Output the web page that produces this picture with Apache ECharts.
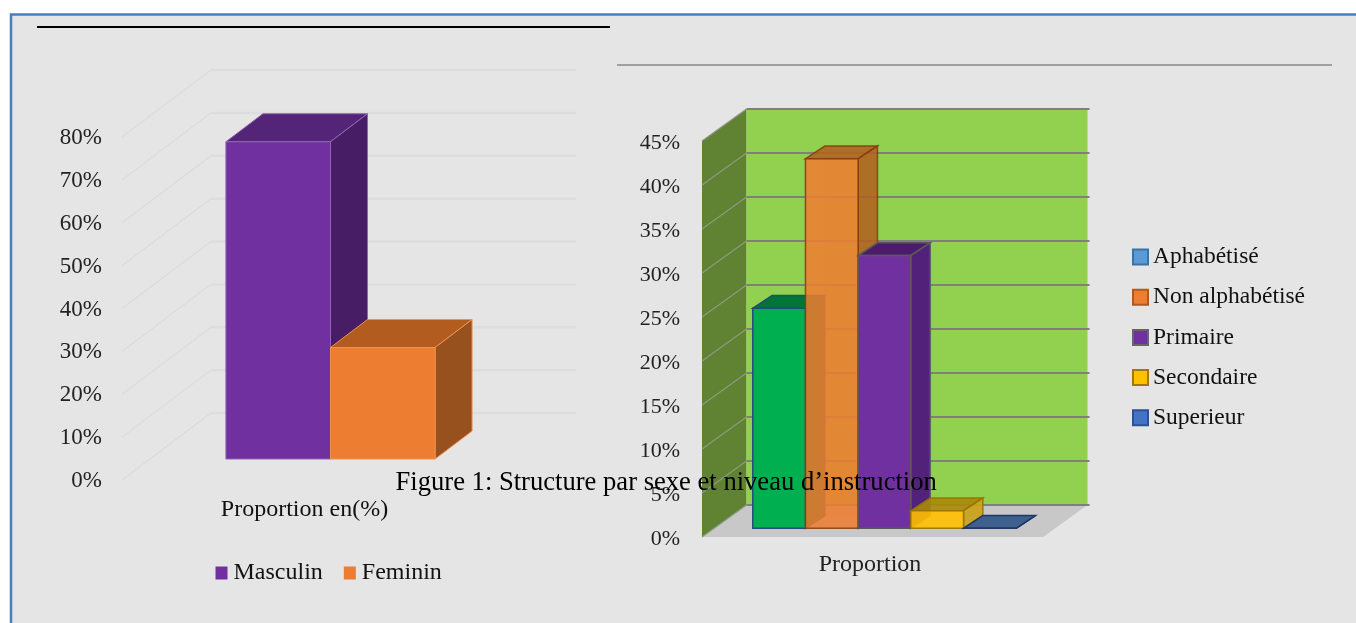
<!DOCTYPE html>
<html><head><meta charset="utf-8">
<style>html,body{margin:0;padding:0;background:#fff}#c{width:1356px;height:623px}</style>
<script src="https://cdn.jsdelivr.net/npm/echarts@6/dist/echarts.min.js"></script>
</head><body><div id="c"></div>
<script>
const titleText = "Figure 1: Structure par sexe et niveau d’instruction";
const sexCategories = ["Proportion en(%)"];
const sexNames = ["Masculin", "Feminin"];
const sexValues = [74, 26];
const sexTicks = [0, 10, 20, 30, 40, 50, 60, 70, 80];
const eduCategories = ["Proportion"];
const eduNames = ["Aphabétisé", "Non alphabétisé", "Primaire", "Secondaire", "Superieur"];
const eduValues = [25, 42, 31, 2, 0];
const eduTicks = [0, 5, 10, 15, 20, 25, 30, 35, 40, 45];

const serif = '"Liberation Serif","Times New Roman",serif';

const sexStyles = [
  {front:'#7030a0', top:'#542478', side:'#471e65', line:'#8f66b3', opacity:1},
  {front:'#ed7d31', top:'#b25c20', side:'#97511e', line:'#f0924f', opacity:1}
];
const eduStyles = [
  {front:'#00b050', top:'#007535', side:'#007535', line:'#1f4e79', opacity:1},
  {front:'#ed7d31', top:'#b0601f', side:'#b0601f', line:'#843c0c', opacity:0.86, back:true},
  {front:'#7030a0', top:'#4c1b6e', side:'#52217a', line:'#595959', opacity:1},
  {front:'#ffc000', top:'#a88a08', side:'#c9a116', line:'#977200', opacity:0.9, back:true},
  {front:'#4472c4', top:'#3f5f8f', side:'#203864', line:'#203864', opacity:1}
];
const eduLegendStyles = [
  {color:'#5b9bd5', borderColor:'#41719c'},
  {color:'#ed7d31', borderColor:'#ae5a21'},
  {color:'#7030a0', borderColor:'#666666'},
  {color:'#ffc000', borderColor:'#9c7a10'},
  {color:'#4472c4', borderColor:'#2f528f'}
];

function poly(points, fill, stroke, lw, opacity){
  return {type:'polygon', shape:{points}, style:{fill, stroke, lineWidth:lw, opacity}};
}

function barSeries(name, value, cat, i, n, style, conf, gridIndex){
  return {
    type:'custom', name, xAxisIndex:gridIndex, yAxisIndex:gridIndex, z:3, silent:true,
    itemStyle:{color:style.front},
    data:[[cat, value]],
    renderItem(params, api){
      const c = api.value(0), v = api.value(1);
      const base = api.coord([c, 0]), topP = api.coord([c, v]);
      const w = api.size([1, 0])[0] * conf.ratio;
      const x0 = base[0] - w * n / 2 + i * w + conf.ox, x1 = x0 + w;
      const yb = base[1] - conf.oy, yt = topP[1] - conf.oy;
      const dx = conf.dx, dy = conf.dy, lw = conf.lw, o = style.opacity;
      const ch = [];
      if (style.back) {
        ch.push(poly([[x0+dx,yb-dy],[x1+dx,yb-dy],[x1+dx,yt-dy],[x0+dx,yt-dy]], style.front, style.line, 0.6, 0.12));
      }
      ch.push(poly([[x0,yt],[x1,yt],[x1+dx,yt-dy],[x0+dx,yt-dy]], style.top, style.line, lw, o));
      ch.push(poly([[x1,yb],[x1+dx,yb-dy],[x1+dx,yt-dy],[x1,yt]], style.side, style.line, lw, o));
      ch.push(poly([[x0,yb],[x1,yb],[x1,yt],[x0,yt]], style.front, style.line, lw, o));
      return {type:'group', children:ch};
    }
  };
}

function wallSeries(cat, walls, gridIndex){
  return {
    type:'custom', xAxisIndex:gridIndex, yAxisIndex:gridIndex, z:1, silent:true,
    data:[[cat, 0]],
    renderItem(params){
      const s = params.coordSys, l = s.x, r = s.x + s.width, t = s.y, b = s.y + s.height;
      const dx = walls.dx, dy = walls.dy;
      return {type:'group', children:[
        poly([[l,b],[l+dx,b-dy],[l+dx,t-dy],[l,t]], walls.side, null, 0, 1),
        poly([[l+dx,b-dy],[r+dx,b-dy],[r+dx,t-dy],[l+dx,t-dy]], walls.back, null, 0, 1),
        poly([[l,b],[r,b],[r+dx,b-dy],[l+dx,b-dy]], walls.floor, null, 0, 1)
      ]};
    }
  };
}

function gridSeries(cat, ticks, walls, gridIndex){
  return {
    type:'custom', xAxisIndex:gridIndex, yAxisIndex:gridIndex, z:2, silent:true,
    data:ticks.map(t => [cat, t]),
    renderItem(params, api){
      const s = params.coordSys, l = s.x, r = s.x + s.width;
      const y = api.coord([api.value(0), api.value(1)])[1];
      const dx = walls.dx, dy = walls.dy;
      return {type:'group', children:[
        {type:'line', shape:{x1:l,y1:y,x2:l+dx,y2:y-dy}, style:{stroke:walls.diag, lineWidth:walls.diagW}},
        {type:'line', shape:{x1:l+dx,y1:y-dy,x2:r+dx+walls.over,y2:y-dy}, style:{stroke:walls.line, lineWidth:walls.lineW}}
      ]};
    }
  };
}

const sexConf = {ratio:0.2865, ox:26, oy:21, dx:37, dy:28, lw:1};
const eduConf = {ratio:0.1545, ox:12, oy:8.7, dx:19.3, dy:12.7, lw:1.5};
const sexWalls = {dx:89, dy:67, side:'rgba(0,0,0,0)', back:'rgba(0,0,0,0)', floor:'rgba(0,0,0,0)', line:'#dddddd', lineW:2.5, diag:'#dbdbdb', diagW:1.2, over:0};
const eduWalls = {dx:44.5, dy:32, side:'#5f8233', back:'#92d050', floor:'#c9c8c8', line:'#7f7f7f', lineW:1.8, diag:'#8d9a80', diagW:1.2, over:2};

const chart = echarts.init(document.getElementById('c'));
chart.setOption({
  animation:false,
  backgroundColor:'#ffffff',
  title:{text:titleText, left:395.5, top:470, padding:0,
    textStyle:{fontFamily:serif, fontSize:26.6, fontWeight:'normal', color:'#000'}},
  grid:[
    {left:122, top:137, width:365, height:343},
    {left:702, top:141, width:341, height:396}
  ],
  xAxis:[
    {type:'category', gridIndex:0, data:sexCategories, axisLine:{show:false}, axisTick:{show:false},
      axisLabel:{margin:18, color:'#111', fontFamily:serif, fontSize:24}},
    {type:'category', gridIndex:1, data:eduCategories, axisLine:{show:false}, axisTick:{show:false},
      axisLabel:{margin:16, padding:[0,5,0,0], color:'#222', fontFamily:serif, fontSize:24}}
  ],
  yAxis:[
    {type:'value', gridIndex:0, min:0, max:80, interval:10, axisLine:{show:false}, axisTick:{show:false}, splitLine:{show:false},
      axisLabel:{formatter:'{p|{value}%}', margin:20,
        rich:{p:{padding:[2,0,0,0], color:'#222', fontFamily:serif, fontSize:23}}}},
    {type:'value', gridIndex:1, min:0, max:45, interval:5, axisLine:{show:false}, axisTick:{show:false}, splitLine:{show:false},
      axisLabel:{formatter:'{p|{value}%}', margin:22,
        rich:{p:{padding:[5,0,0,0], color:'#222', fontFamily:serif, fontSize:22}}}}
  ],
  legend:[
    {left:215.5, top:561, orient:'horizontal', icon:'rect', itemWidth:12, itemHeight:13, itemGap:21, padding:0,
      textStyle:{fontFamily:serif, fontSize:24, color:'#111', padding:[0,0,0,1]},
      selectedMode:false, data:sexNames},
    {left:1132, top:245, orient:'vertical', icon:'rect', itemWidth:15, itemHeight:15, itemGap:16.2, padding:0,
      textStyle:{fontFamily:serif, fontSize:23.5, color:'#111'},
      selectedMode:false,
      data:eduNames.map((name, i) => ({name, itemStyle:Object.assign({borderWidth:2}, eduLegendStyles[i])}))}
  ],
  graphic:[
    {type:'rect', z:-10, silent:true, shape:{x:11, y:14.5, width:1360, height:620},
      style:{fill:'#e5e5e5', stroke:'#4a7ebb', lineWidth:2.5}},
    {type:'line', z:-9, silent:true, shape:{x1:37, y1:27, x2:610, y2:27}, style:{stroke:'#000', lineWidth:2}},
    {type:'line', z:-9, silent:true, shape:{x1:617, y1:65, x2:1332, y2:65}, style:{stroke:'#888', lineWidth:1.5}}
  ],
  series:[
    gridSeries(sexCategories[0], sexTicks, sexWalls, 0),
    wallSeries(eduCategories[0], eduWalls, 1),
    gridSeries(eduCategories[0], eduTicks, eduWalls, 1),
    ...sexNames.map((n, i) => barSeries(n, sexValues[i], sexCategories[0], i, sexNames.length, sexStyles[i], sexConf, 0)),
    ...eduNames.map((n, i) => barSeries(n, eduValues[i], eduCategories[0], i, eduNames.length, eduStyles[i], eduConf, 1))
  ]
});
</script></body></html>
